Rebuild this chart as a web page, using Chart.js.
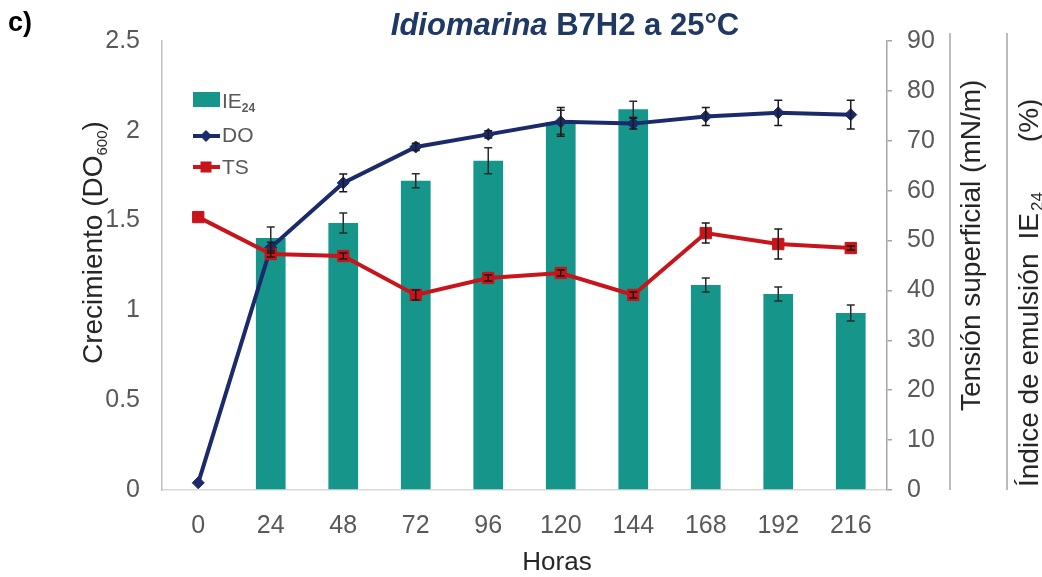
<!DOCTYPE html>
<html>
<head>
<meta charset="utf-8">
<script src="https://cdn.jsdelivr.net/npm/chart.js@4/dist/chart.umd.min.js"></script>
<style>
  html, body { margin: 0; padding: 0; background: #ffffff; }
  #wrap { width: 1042px; height: 577px; }
</style>
</head>
<body>
<div id="wrap"><canvas id="chart" width="1042" height="577"></canvas></div>
<script>
// Sampling times (hours)
const hours = ['0', '24', '48', '72', '96', '120', '144', '168', '192', '216'];

// Emulsification index IE24 (%) with standard deviation
const ie24 = [null, 50.5, 53.5, 62, 66, 73.7, 76.3, 41.1, 39.3, 35.5];
const ie24Err = [null, 2.2, 2.0, 1.4, 2.6, 2.4, 1.6, 1.4, 1.4, 1.6];

// Growth, optical density DO600
const growthDO = [0.04, 1.35, 1.71, 1.91, 1.98, 2.05, 2.04, 2.08, 2.10, 2.09];
const growthErr = [0, 0.03, 0.05, 0.02, 0.02, 0.08, 0.03, 0.05, 0.07, 0.08];

// Surface tension TS (mN/m)
const tension = [54.7, 47.3, 46.9, 39.1, 42.5, 43.5, 39.1, 51.5, 49.3, 48.5];
const tensionErr = [0, 0.6, 0.6, 1.0, 0.6, 0.6, 0.6, 2.0, 3.0, 0.4];

const FONT = "'Liberation Sans', Arial, sans-serif";
const TEAL = '#16968B';
const NAVY = '#1B2A6A';
const RED = '#C8141B';
const TICK = '#595959';
const LABEL = '#262626';

// Draw a sequence of text runs (for subscripts / mixed styles) on one baseline
function drawRuns(ctx, parts, x, y, align) {
  const widths = parts.map(p => {
    ctx.font = `${p.style || 'normal'} ${p.weight || 'normal'} ${p.size}px ${FONT}`;
    return ctx.measureText(p.t).width + (p.gap || 0);
  });
  const total = widths.reduce((a, b) => a + b, 0);
  let cx = align === 'center' ? x - total / 2 : x;
  ctx.textAlign = 'left';
  ctx.textBaseline = 'alphabetic';
  parts.forEach((p, i) => {
    ctx.font = `${p.style || 'normal'} ${p.weight || 'normal'} ${p.size}px ${FONT}`;
    ctx.fillStyle = p.color || ctx.fillStyle;
    ctx.fillText(p.t, cx + (p.gap || 0), y + (p.dy || 0));
    cx += widths[i];
  });
}

function drawErrorBars(ctx, xScale, yScale, vals, errs, color, cap) {
  ctx.save();
  ctx.strokeStyle = color;
  ctx.lineWidth = 1.5;
  vals.forEach((v, i) => {
    if (v == null || !errs[i]) return;
    const x = xScale.getPixelForValue(i);
    const yTop = yScale.getPixelForValue(v + errs[i]);
    const yBot = yScale.getPixelForValue(v - errs[i]);
    ctx.beginPath();
    ctx.moveTo(x, yTop); ctx.lineTo(x, yBot);
    ctx.moveTo(x - cap / 2, yTop); ctx.lineTo(x + cap / 2, yTop);
    ctx.moveTo(x - cap / 2, yBot); ctx.lineTo(x + cap / 2, yBot);
    ctx.stroke();
  });
  ctx.restore();
}

const decorations = {
  id: 'decorations',
  afterDatasetsDraw(chart) {
    const { ctx, scales } = chart;
    drawErrorBars(ctx, scales.x, scales.yR, ie24, ie24Err, '#2b2b2b', 8);
    drawErrorBars(ctx, scales.x, scales.yL, growthDO, growthErr, '#1a1a1a', 8);
    drawErrorBars(ctx, scales.x, scales.yR, tension, tensionErr, '#1a1a1a', 8);
  },
  afterDraw(chart) {
    const { ctx, chartArea } = chart;
    ctx.save();

    // Panel letter
    ctx.fillStyle = '#000000';
    drawRuns(ctx, [{ t: 'c)', size: 27, weight: 'bold' }], 8, 31, 'left');

    // Title
    drawRuns(ctx, [
      { t: 'Idiomarina', size: 31, weight: 'bold', style: 'italic', color: '#1F3864' },
      { t: ' B7H2 a 25°C', size: 31, weight: 'bold', color: '#1F3864' }
    ], 565, 35, 'center');

    // X axis title
    ctx.fillStyle = LABEL;
    drawRuns(ctx, [{ t: 'Horas', size: 26 }], 557, 570, 'center');

    // Left axis title (rotated)
    ctx.save();
    ctx.translate(102, 364);
    ctx.rotate(-Math.PI / 2);
    drawRuns(ctx, [
      { t: 'Crecimiento (DO', size: 28, color: LABEL },
      { t: '600', size: 15, dy: 5, color: LABEL },
      { t: ')', size: 28, color: LABEL }
    ], 0, 0, 'left');
    ctx.restore();

    // Separator lines beside the right axis
    ctx.strokeStyle = '#A6A6A6';
    ctx.lineWidth = 1.5;
    [950, 1007].forEach(x => {
      ctx.beginPath();
      ctx.moveTo(x, 33);
      ctx.lineTo(x, chartArea.bottom);
      ctx.stroke();
    });

    // Right axis titles (rotated)
    ctx.save();
    ctx.translate(980, 411);
    ctx.rotate(-Math.PI / 2);
    drawRuns(ctx, [{ t: 'Tensión superficial (mN/m)', size: 28, color: LABEL }], 0, 0, 'left');
    ctx.restore();

    ctx.save();
    ctx.translate(1038, 487);
    ctx.rotate(-Math.PI / 2);
    drawRuns(ctx, [
      { t: 'Índice de emulsión', size: 28, color: LABEL },
      { t: 'IE', size: 28, gap: 14, color: LABEL },
      { t: '24', size: 17, dy: 5, gap: 2, color: LABEL },
      { t: '(%)', size: 28, gap: 50, color: LABEL }
    ], 0, 0, 'left');
    ctx.restore();

    // Legend
    ctx.fillStyle = TEAL;
    ctx.fillRect(193, 92, 27, 15);
    drawRuns(ctx, [
      { t: 'IE', size: 21, color: TICK },
      { t: '24', size: 12, weight: 'bold', dy: 4, color: TICK }
    ], 222, 108, 'left');

    // DO entry: line with diamond marker
    ctx.strokeStyle = NAVY;
    ctx.lineWidth = 4;
    ctx.beginPath(); ctx.moveTo(193, 136); ctx.lineTo(220, 136); ctx.stroke();
    ctx.fillStyle = NAVY;
    ctx.beginPath();
    ctx.moveTo(206, 130); ctx.lineTo(212, 136); ctx.lineTo(206, 142); ctx.lineTo(200, 136);
    ctx.closePath(); ctx.fill();
    drawRuns(ctx, [{ t: 'DO', size: 21, color: TICK }], 222, 142, 'left');

    // TS entry: line with square marker
    ctx.strokeStyle = RED;
    ctx.beginPath(); ctx.moveTo(193, 167); ctx.lineTo(220, 167); ctx.stroke();
    ctx.fillStyle = RED;
    ctx.fillRect(200.5, 161.5, 11, 11);
    drawRuns(ctx, [{ t: 'TS', size: 21, color: TICK }], 222, 174, 'left');

    ctx.restore();
  }
};

new Chart(document.getElementById('chart'), {
  type: 'bar',
  data: {
    labels: hours,
    datasets: [
      {
        type: 'bar',
        label: 'IE24',
        data: ie24,
        yAxisID: 'yR',
        backgroundColor: TEAL,
        categoryPercentage: 0.5,
        barPercentage: 0.82,
        order: 3
      },
      {
        type: 'line',
        label: 'DO',
        data: growthDO,
        yAxisID: 'yL',
        borderColor: NAVY,
        backgroundColor: NAVY,
        borderWidth: 4,
        pointStyle: 'rectRot',
        pointRadius: 6,
        pointBorderWidth: 1,
        tension: 0,
        order: 2
      },
      {
        type: 'line',
        label: 'TS',
        data: tension,
        yAxisID: 'yR',
        borderColor: RED,
        backgroundColor: RED,
        borderWidth: 4,
        pointStyle: 'rect',
        pointRadius: 8,
        pointBorderWidth: 1,
        tension: 0,
        order: 1
      }
    ]
  },
  options: {
    responsive: false,
    animation: false,
    layout: { padding: { top: 41, left: 0, right: 0, bottom: 0 } },
    plugins: {
      legend: { display: false },
      tooltip: { enabled: false }
    },
    scales: {
      x: {
        grid: { display: false, drawTicks: false },
        border: { display: true, color: '#D9D9D9', width: 1.5 },
        ticks: { color: TICK, font: { family: FONT, size: 25 }, padding: 21, maxRotation: 0, autoSkip: false },
        afterFit(scale) { scale.height = 87; }
      },
      yL: {
        position: 'left',
        min: 0,
        max: 2.5,
        grid: { display: false, drawTicks: false },
        border: { display: true, color: '#BFBFBF', width: 1.5 },
        ticks: {
          stepSize: 0.5,
          color: TICK,
          font: { family: FONT, size: 25 },
          padding: 22,
          callback: value => String(value)
        },
        afterFit(scale) { scale.width = 162; }
      },
      yR: {
        position: 'right',
        min: 0,
        max: 90,
        grid: { display: true, drawOnChartArea: false, drawTicks: true, tickLength: 5, color: '#A6A6A6', lineWidth: 1.5 },
        border: { display: true, color: '#A6A6A6', width: 1.5 },
        ticks: { stepSize: 10, color: TICK, font: { family: FONT, size: 25 }, padding: 15 },
        afterFit(scale) { scale.width = 155; }
      }
    }
  },
  plugins: [decorations]
});
</script>
</body>
</html>
